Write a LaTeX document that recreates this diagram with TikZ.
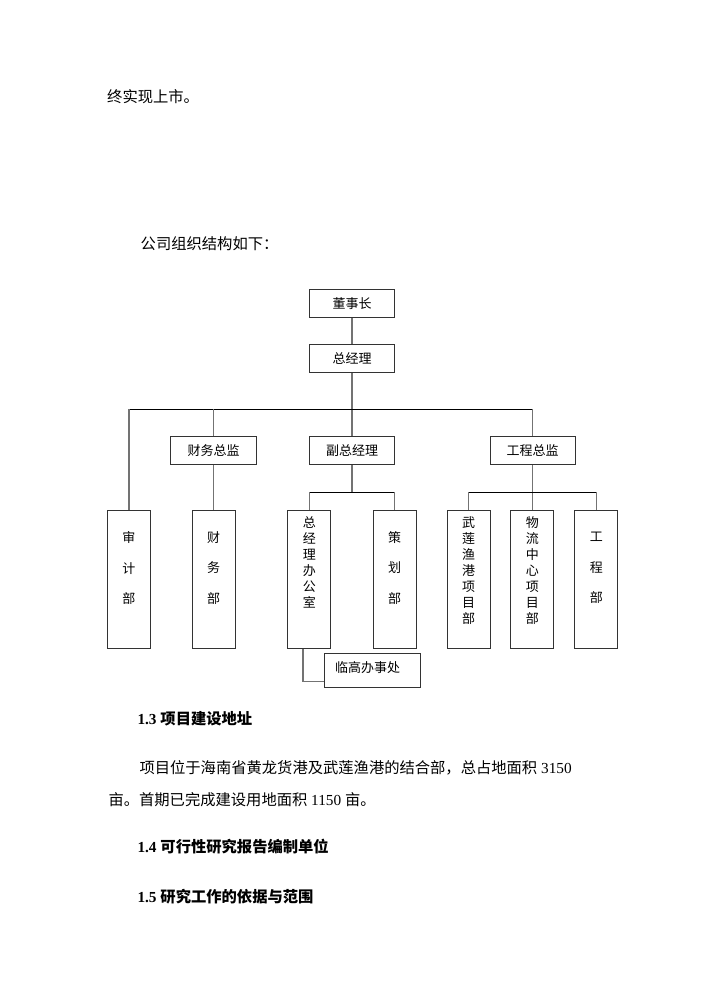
\documentclass[tikz,border=0pt]{standalone}
\usepackage{fontspec}
\setmainfont{Liberation Serif}
\newfontfamily\cjk{Noto Sans CJK SC}
\begin{document}
\begin{tikzpicture}[x=1pt,y=-1pt,
  box/.style={draw=black!80,line width=1pt,fill=white,inner sep=0pt,
    font=\cjk\fontsize{13}{16}\selectfont},
  hbox/.style={box,minimum width=85.4pt,minimum height=27.5pt},
  vbox/.style={box,minimum width=43pt,minimum height=138.3pt},
  vtext/.style={inner sep=0pt,align=center,font=\cjk\fontsize{13}{16}\selectfont},
  vtextw/.style={inner sep=0pt,align=center,font=\cjk\fontsize{13}{30.3}\selectfont},
  vline/.style={draw=black!55,line width=1.5pt},
  hline/.style={draw=black,line width=1pt},
  body/.style={inner sep=0pt,anchor=west,font=\fontsize{15.3}{18}\selectfont},
  head/.style={inner sep=0pt,anchor=west,font=\bfseries\fontsize{15.3}{18}\selectfont}]
\useasboundingbox (0,0) rectangle (703,994);
\fill[white] (0,0) rectangle (703,994);

% body text
\node[body] (t1) at (107,96.7) {\cjk 终实现上市。};
\node[body] (t2) at (140.5,243.3) {\cjk 公司组织结构如下：};
\node[head] (h13) at (137.3,719) {1.3 {\cjk 项目建设地址}};
\node[body] (p1) at (139.3,768.3) {{\cjk 项目位于海南省黄龙货港及武莲渔港的结合部，总占地面积} 3150};
\node[body] (p2) at (108.3,799.3) {{\cjk 亩。首期已完成建设用地面积} 1150 {\cjk 亩。}};
\node[head] (h14) at (137.3,846.7) {1.4 {\cjk 可行性研究报告编制单位}};
\node[head] (h15) at (137.3,896.7) {1.5 {\cjk 研究工作的依据与范围}};

% coordinates for bars
\coordinate (bar1) at (352,409);
\coordinate (bar2) at (352,492.3);
\coordinate (bar3) at (532.7,492.3);

% connectors (drawn first, boxes on top)
\draw[vline] (352,317) -- (352,437);
\draw[hline] (129,409) -- (532.7,409);
\draw[vline] (128.8,409) -- (128.8,511);
\draw[vline] (213.5,409) -- (213.5,437);
\draw[vline] (532.7,409) -- (532.7,437);
\draw[vline] (213.5,464) -- (213.5,511);
\draw[vline] (352,464) -- (bar2);
\draw[hline] (309.3,492.3) -- (394.5,492.3);
\draw[vline] (309.3,492.3) -- (309.3,511);
\draw[vline] (394.5,492.3) -- (394.5,511);
\draw[vline] (532.7,464) -- (532.7,511);
\draw[hline] (468.7,492.3) -- (596.5,492.3);
\draw[vline] (468.7,492.3) -- (468.7,511);
\draw[vline] (596.5,492.3) -- (596.5,511);

% boxes
\node[hbox] (dsz) at (352,303.3) {董事长};
\node[hbox] (zjl) at (352,358.7) {总经理};
\node[hbox] (cwzj) at (213.5,450.3) {财务总监};
\node[hbox] (fzjl) at (352,450.3) {副总经理};
\node[hbox] (gczj) at (532.7,450.3) {工程总监};

\node[vbox] (sjb) at (128.8,579.8) {};
\node[vbox] (cwb) at (213.5,579.8) {};
\node[vbox] (bgs) at (309.3,579.8) {};
\node[vbox] (chb) at (394.5,579.8) {};
\node[vbox] (wlyg) at (468.7,579.8) {};
\node[vbox] (wlzx) at (532.3,579.8) {};
\node[vbox] (gcb) at (596.4,579.8) {};

\node[vtextw] (sjbt) at (128.8,568) {审\\计\\部};
\node[vtextw] (cwbt) at (213.5,568) {财\\务\\部};
\node[vtext] (bgst) at (309.3,562.5) {总\\经\\理\\办\\公\\室};
\node[vtextw] (chbt) at (394.5,568) {策\\划\\部};
\node[vtext] (wlygt) at (468.7,570.5) {武\\莲\\渔\\港\\项\\目\\部};
\node[vtext] (wlzxt) at (532.3,570.5) {物\\流\\中\\心\\项\\目\\部};
\node[vtextw] (gcbt) at (596.4,568) {工\\程\\部};

\node[box,minimum width=95.7pt,minimum height=34.4pt] (lg) at (372.2,670.5) {};
\node[vtext] (lgt) at (367.7,667.7) {临高办事处};

\draw[vline] ([xshift=-6.3pt]bgs.south) |- ([yshift=-11.2pt]lg.west);
\end{tikzpicture}
\end{document}
